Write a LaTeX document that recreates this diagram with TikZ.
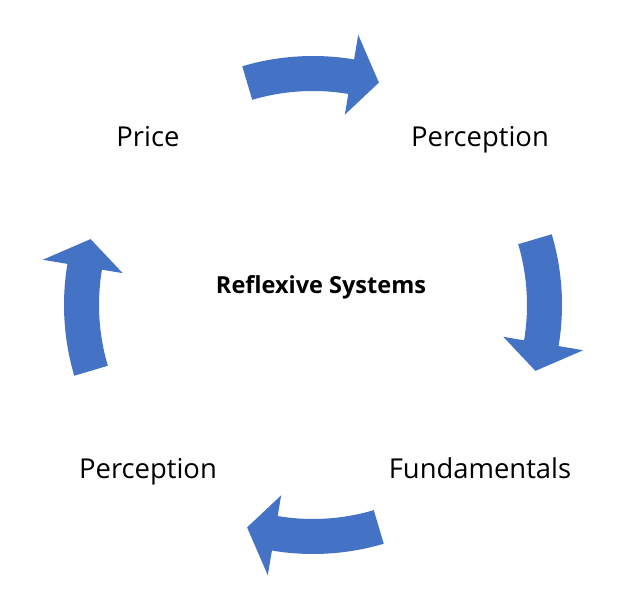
\documentclass[tikz,border=0pt]{standalone}
\usepackage{fontspec}
\setmainfont{Open Sans}
\definecolor{arrowblue}{RGB}{68,114,196}
\tikzset{
  blockarrow/.style={fill=arrowblue, draw=none},
  lbl/.style={anchor=base, inner sep=0pt, font=\fontsize{27.4}{31}\selectfont},
  title/.style={anchor=base, inner sep=0pt, font=\fontsize{23.5}{27}\selectfont\bfseries}
}
\newcommand{\circarrow}[1]{%
  \fill[blockarrow] (#1:249pt) arc[start angle=#1, delta angle=-26, radius=249pt]
    -- ({#1-26}:274pt) -- ({#1-33}:232pt) -- ({#1-26}:193pt) -- ({#1-26}:214pt)
    arc[start angle={#1-26}, delta angle=26, radius=214pt] -- cycle;}
\begin{document}
\begin{tikzpicture}[x=1pt,y=1pt]
\useasboundingbox[fill=white] (0,0) rectangle (640,593);
\begin{scope}[shift={(313,288)}]
  \circarrow{106.5}
  \circarrow{16.5}
  \circarrow{-73.5}
  \circarrow{-163.5}
\end{scope}
\node[lbl] (price) at (148,446) {Price};
\node[lbl] (perc1) at (480,446) {Perception};
\node[title] (center) at (321,299) {Reflexive Systems};
\node[lbl] (fund) at (480,114) {Fundamentals};
\node[lbl] (perc2) at (148,114) {Perception};
\end{tikzpicture}
\end{document}
